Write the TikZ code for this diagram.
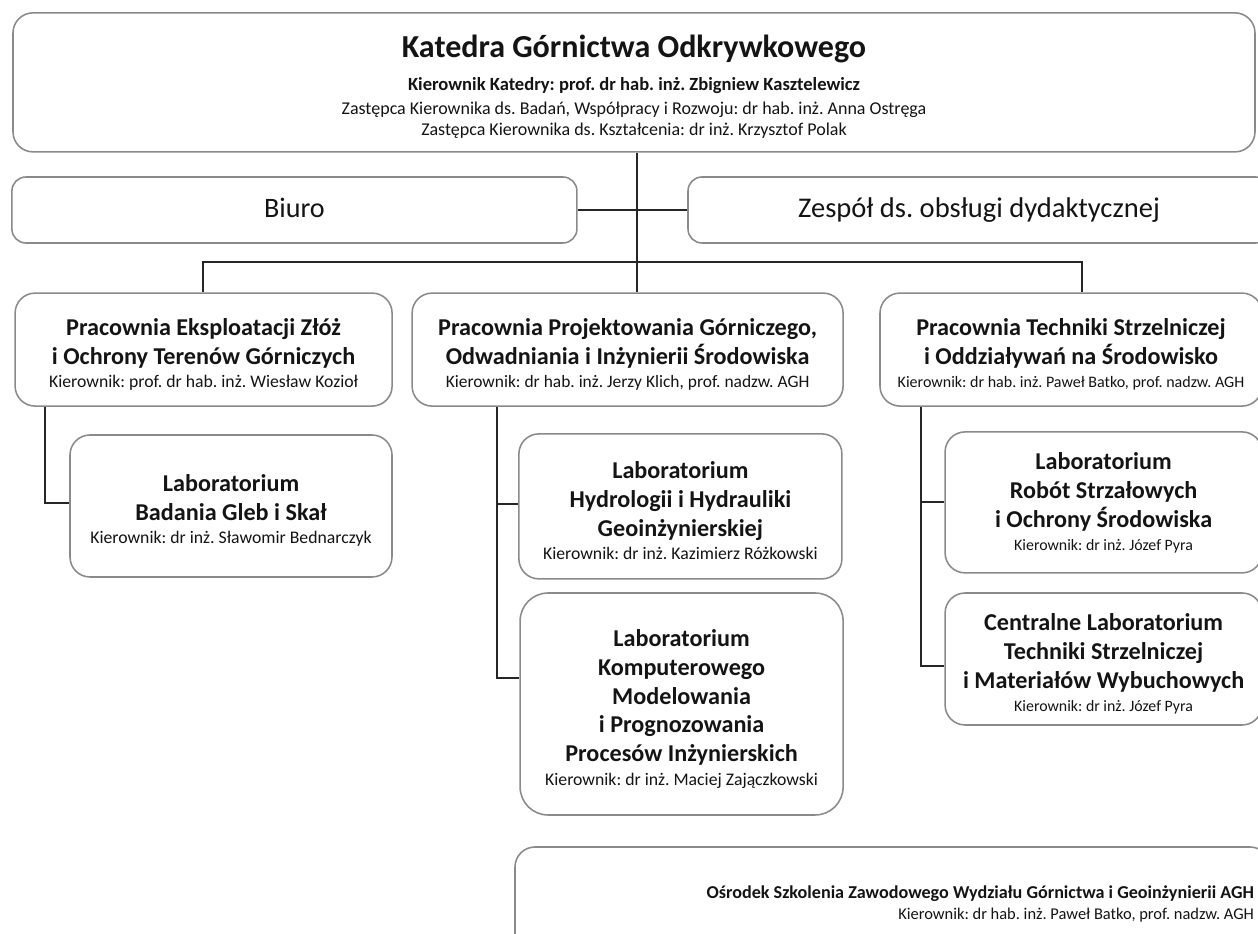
\documentclass[tikz,border=0pt]{standalone}
\usepackage{fontspec}
\setmainfont{Carlito}
\usetikzlibrary{positioning}
\definecolor{boxgray}{HTML}{8A8A8A}
\definecolor{txt}{HTML}{141414}
\newcommand{\topstrut}{\rule{0pt}{18.6pt}}

\begin{document}
\frenchspacing
\begin{tikzpicture}[
  box/.style={draw=boxgray, line width=1.1pt, rounded corners=0.5cm, fill=white, align=center, text=txt, inner sep=0pt},
  link/.style={draw=black!85, line width=1.1pt},
  ttl/.style={font=\fontsize{17.2}{20.6}\selectfont\bfseries},
]
\clip (0,0) rectangle (31.45,23.35);

% head of the chair
\node[box, minimum width=31.05cm, minimum height=3.475cm, font=\fontsize{12.8}{15}\selectfont] (kat) at (15.85,21.29) {\rule{0pt}{22pt}{\fontsize{22.8}{26}\selectfont\bfseries Katedra Górnictwa Odkrywkowego}\\[8.5pt]
{\fontsize{13.2}{15}\selectfont\bfseries Kierownik Katedry: prof. dr hab. inż. Zbigniew Kasztelewicz}\\[2.5pt]
Zastępca Kierownika ds. Badań, Współpracy i Rozwoju: dr hab. inż. Anna Ostręga\\
Zastępca Kierownika ds. Kształcenia: dr inż. Krzysztof Polak};

\node[box, rounded corners=0.35cm, minimum width=14.125cm, minimum height=1.65cm, text height=15pt, text depth=5pt, font=\fontsize{20}{24}\selectfont] (biuro) at (7.36,18.10) {Biuro};
\node[box, rounded corners=0.35cm, minimum width=14.55cm, minimum height=1.65cm, text height=15pt, text depth=5pt, font=\fontsize{20.3}{24}\selectfont] (zesp) at (24.475,18.10) {Zespół ds. obsługi dydaktycznej};

% pracownie
\node[box, ttl, minimum width=9.425cm, minimum height=2.825cm] (p1) at (5.09,14.61) {\topstrut Pracownia Eksploatacji Złóż\\
i Ochrony Terenów Górniczych\\[-4.2pt]
{\fontsize{12.6}{14}\selectfont\mdseries Kierownik: prof. dr hab. inż. Wiesław Kozioł}};
\node[box, ttl, minimum width=10.775cm, minimum height=2.825cm] (p2) at (15.69,14.61) {\topstrut Pracownia Projektowania Górniczego,\\
Odwadniania i Inżynierii Środowiska\\[-4.2pt]
{\fontsize{12.4}{14}\selectfont\mdseries Kierownik: dr hab. inż. Jerzy Klich, prof. nadzw. AGH}};
\node[box, ttl, minimum width=9.55cm, minimum height=2.825cm] (p3) at (26.775,14.61) {\topstrut Pracownia Techniki Strzelniczej\\
i Oddziaływań na Środowisko\\[-4.2pt]
{\fontsize{11.4}{14}\selectfont\mdseries Kierownik: dr hab. inż. Paweł Batko, prof. nadzw. AGH}};

% laboratoria
\node[box, ttl, minimum width=8.05cm, minimum height=3.55cm] (labB) at (5.775,10.70) {\topstrut Laboratorium\\
Badania Gleb i Skał\\[-4.2pt]
{\fontsize{12.6}{14}\selectfont\mdseries Kierownik: dr inż. Sławomir Bednarczyk}};
\node[box, ttl, minimum width=8.075cm, minimum height=3.625cm] (labH) at (17.01,10.69) {\topstrut Laboratorium\\
Hydrologii i Hydrauliki\\
Geoinżynierskiej\\[-4.2pt]
{\fontsize{12.6}{14}\selectfont\mdseries Kierownik: dr inż. Kazimierz Różkowski}};
\node[box, ttl, rounded corners=0.7cm, minimum width=8.075cm, minimum height=5.55cm] (labK) at (17.04,5.75) {\topstrut Laboratorium\\
Komputerowego\\
Modelowania\\
i Prognozowania\\
Procesów Inżynierskich\\[-4.2pt]
{\fontsize{12.6}{14}\selectfont\mdseries Kierownik: dr inż. Maciej Zajączkowski}};
\node[box, ttl, minimum width=7.925cm, minimum height=3.525cm] (labR) at (27.59,10.79) {Laboratorium\\
Robót Strzałowych\\
i Ochrony Środowiska\\[-4.2pt]
{\fontsize{11.3}{14}\selectfont\mdseries Kierownik: dr inż. Józef Pyra}};
\node[box, ttl, minimum width=7.925cm, minimum height=3.3cm] (labC) at (27.59,6.875) {\rule{0pt}{19pt}Centralne Laboratorium\\
Techniki Strzelniczej\\
i Materiałów Wybuchowych\\[-4.2pt]
{\fontsize{11.3}{14}\selectfont\mdseries Kierownik: dr inż. Józef Pyra}};

\node[box, align=flush right, text width=18.075cm, minimum width=18.875cm, minimum height=2.825cm, font=\fontsize{11.7}{15}\selectfont] (osr) at (22.3125,0.7625) {{\fontsize{12.9}{15}\selectfont\bfseries Ośrodek Szkolenia Zawodowego Wydziału Górnictwa i Geoinżynierii AGH}\\
Kierownik: dr hab. inż. Paweł Batko, prof. nadzw. AGH};

% connectors
\coordinate (bus) at (15.925,16.8);
\coordinate (busl) at (5.075,16.8);
\coordinate (busr) at (27.05,16.8);
\coordinate (b1) at (1.125,10.775);
\coordinate (h2) at (12.425,10.75);
\coordinate (k2) at (12.425,6.4);
\coordinate (r3) at (23.025,10.8);
\coordinate (c3) at (23.025,6.7);

\draw[link] (kat.south -| bus) -- (p2.north -| bus);
\draw[link] (biuro.east) -- (zesp.west);
\draw[link] (busl |- p1.north) -- (busl) -- (busr) -- (busr |- p3.north);
\draw[link] (b1 |- p1.south) -- (b1) -- (b1 -| labB.west);
\draw[link] (k2 |- p2.south) -- (k2) -- (k2 -| labK.west);
\draw[link] (h2) -- (h2 -| labH.west);
\draw[link] (c3 |- p3.south) -- (c3) -- (c3 -| labC.west);
\draw[link] (r3) -- (r3 -| labR.west);
\end{tikzpicture}
\end{document}
